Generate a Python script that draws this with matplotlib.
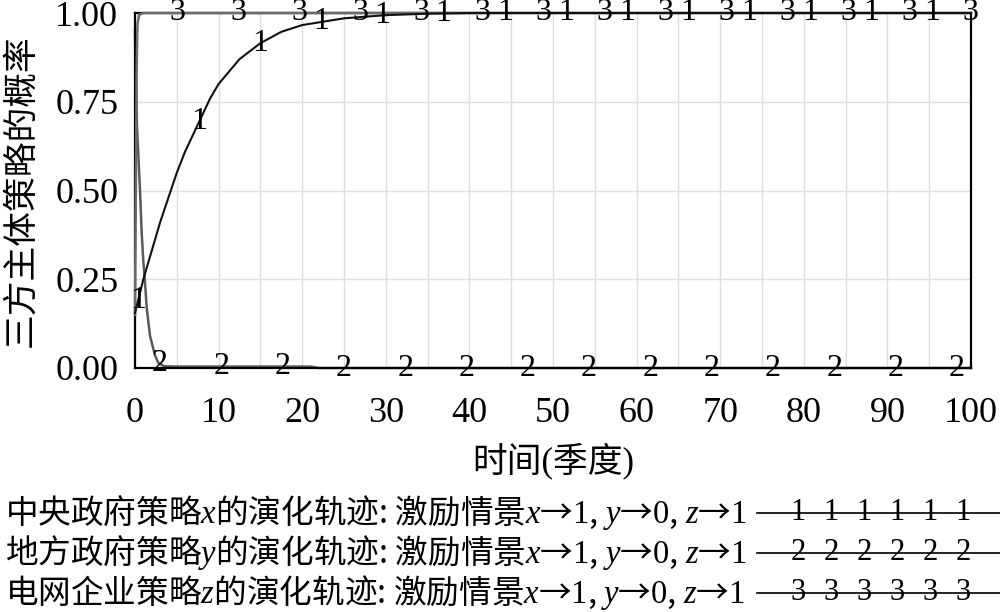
import numpy as np
import matplotlib
matplotlib.use("Agg")
import matplotlib.pyplot as plt
from matplotlib.lines import Line2D

plt.rcParams['font.family'] = ['Liberation Serif', 'Noto Sans CJK SC']
plt.rcParams['mathtext.fontset'] = 'custom'
plt.rcParams['mathtext.rm'] = 'Liberation Serif'
plt.rcParams['mathtext.it'] = 'Liberation Serif:italic'

# ---------------- data ----------------
t_x = [0, 1, 2, 3, 4, 5, 6, 7, 8, 9, 10, 12.5, 15, 17.5, 20, 25, 30, 35, 40, 100]
x_vals = [0.155, 0.25, 0.33, 0.41, 0.48, 0.55, 0.61, 0.66, 0.71, 0.76, 0.80,
          0.87, 0.915, 0.947, 0.966, 0.985, 0.994, 0.998, 1.0, 1.0]

t_y = [0, 0.24, 0.6, 0.8, 1.0, 1.2, 1.4, 1.8, 2.4, 2.8, 3.5, 5, 21, 22, 100]
y_vals = [0.95, 0.68, 0.5, 0.38, 0.30, 0.24, 0.17, 0.09, 0.035, 0.014, 0.005,
          0.004, 0.004, 0.0, 0.0]

t_z = [0, 0.1, 0.2, 0.3, 0.5, 1, 100]
z_vals = [0.15, 0.5, 0.85, 0.97, 0.995, 1.0, 1.0]

x_ticks = [0, 10, 20, 30, 40, 50, 60, 70, 80, 90, 100]
y_ticks = [0.00, 0.25, 0.50, 0.75, 1.00]

xlabel = "时间(季度)"
ylabel = "三方主体策略的概率"
_scen = "激励情景$x$→$\\mathrm{1}$, $y$→$\\mathrm{0}$, $z$→$\\mathrm{1}$"
legend_labels = [
    "中央政府策略$x$的演化轨迹: " + _scen,
    "地方政府策略$y$的演化轨迹: " + _scen,
    "电网企业策略$z$的演化轨迹: " + _scen,
]
series_ids = ["1", "2", "3"]

# ---------------- figure ----------------
fig = plt.figure(figsize=(10, 6.12), dpi=100)
ax = fig.add_axes([0.135, 1 - 368 / 612, 0.836, 355 / 612])

ax.set_xlim(0, 100)
ax.set_ylim(0, 1)

# grid
ax.set_xticks(x_ticks)
ax.set_xticks(np.arange(5, 100, 10), minor=True)
ax.set_yticks(y_ticks)
ax.grid(True, which='both', color='#dedede', linewidth=1.0, zorder=0)
ax.set_axisbelow(True)
ax.set_xticklabels([str(v) for v in x_ticks])
ax.set_yticklabels([f"{v:.2f}" for v in y_ticks])
ax.tick_params(axis='both', which='both', length=0)
ax.tick_params(axis='x', pad=21, labelsize=26)
ax.tick_params(axis='y', pad=12, labelsize=26)

for s in ax.spines.values():
    s.set_color('black')
    s.set_linewidth(1.6)

series = [
    (t_z, z_vals, '#6a6a6a', 1.8, 3),
    (t_x, x_vals, '#111111', 1.5, 4),
    (t_y, y_vals, '#5a5a5a', 1.8, 2),
]
for tt, vv, col, lw, zo in series:
    ax.plot(tt, vv, color=col, linewidth=lw, zorder=zo, clip_on=False)

# numbered markers along each curve
marker_spec = [
    ("1", t_x, x_vals, 0.36, 95.4),
    ("2", t_y, y_vals, 3.0, 98.3),
    ("3", t_z, z_vals, 5.1, 99.9),
]
for lab, tt, vv, t0, t1 in marker_spec:
    tm = np.linspace(t0, t1, 14)
    vm = np.interp(tm, tt, vv)
    for a, b in zip(tm, vm):
        ax.text(a, b, lab, ha='center', va='center', fontsize=23,
                family='Liberation Serif', zorder=6, clip_on=False)

ax.set_xlabel(xlabel, fontsize=25, va='center')
ax.xaxis.set_label_coords(0.5, (368 - 461) / 355)
ax.set_ylabel(ylabel, fontsize=25, va='center')
ax.yaxis.set_label_coords((22 - 135) / 836, 0.5)

# legend (manual, bottom)
row_y = [1 - 513 / 612, 1 - 553 / 612, 1 - 593 / 612]
for lab, sid, yy in zip(legend_labels, series_ids, row_y):
    fig.text(0.005, yy, lab, fontsize=23.5, family='Noto Sans CJK SC',
             ha='left', va='center')
    fig.add_artist(Line2D([0.757, 1.0], [yy, yy], transform=fig.transFigure,
                          color='black', linewidth=1.2))
    for xm in np.linspace(0.798, 0.963, 6):
        fig.text(xm, yy, sid, fontsize=22, family='Liberation Serif',
                 ha='center', va='center')

fig.savefig("out.png", dpi=100)
